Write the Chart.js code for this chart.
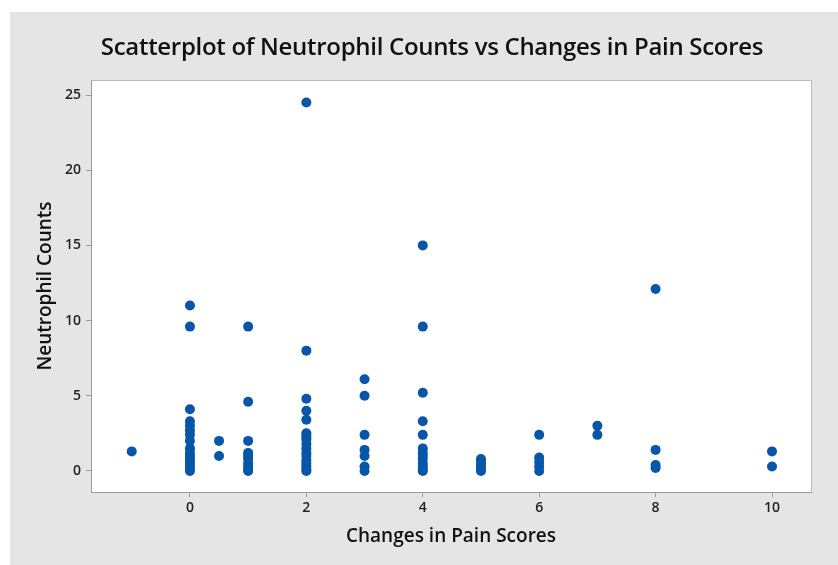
<!DOCTYPE html>
<html>
<head>
<meta charset="utf-8">
<script src="https://cdn.jsdelivr.net/npm/chart.js@4.4.1/dist/chart.umd.min.js"></script>
<style>
  html, body { margin: 0; padding: 0; background: #fff; }
  #wrap { width: 838px; height: 565px; position: relative; }
</style>
</head>
<body>
<div id="wrap"><canvas id="scatter"></canvas></div>
<script>
// Data (x = change in pain score, y = neutrophil count)
const painScores = [
  -1,
  0, 0, 0, 0, 0, 0, 0, 0, 0, 0, 0, 0, 0, 0, 0, 0,
  0.5, 0.5,
  1, 1, 1, 1, 1, 1, 1, 1, 1, 1,
  2, 2, 2, 2, 2, 2, 2, 2, 2, 2, 2, 2, 2, 2, 2, 2, 2,
  3, 3, 3, 3, 3, 3, 3,
  4, 4, 4, 4, 4, 4, 4, 4, 4, 4, 4, 4, 4,
  5, 5, 5, 5, 5,
  6, 6, 6, 6, 6,
  7, 7,
  8, 8, 8, 8,
  10, 10,
];
const neutrophilCounts = [
  1.3,
  11.0, 9.6, 4.1, 3.3, 3.0, 2.7, 2.4, 2.0, 1.5, 1.2, 1.0, 0.8, 0.6, 0.4, 0.2, 0.0,
  2.0, 1.0,
  9.6, 4.6, 2.0, 1.2, 1.0, 0.8, 0.5, 0.3, 0.1, 0.0,
  24.5, 8.0, 4.8, 4.0, 3.4, 2.5, 2.3, 2.1, 1.8, 1.5, 1.2, 1.0, 0.7, 0.5, 0.3, 0.1, 0.0,
  6.1, 5.0, 2.4, 1.4, 1.0, 0.3, 0.0,
  15.0, 9.6, 5.2, 3.3, 2.4, 1.5, 1.2, 1.0, 0.8, 0.5, 0.3, 0.1, 0.0,
  0.8, 0.6, 0.4, 0.2, 0.0,
  2.4, 0.9, 0.6, 0.3, 0.0,
  3.0, 2.4,
  12.1, 1.4, 0.4, 0.2,
  1.3, 0.3,
];
const xTicks = [0, 2, 4, 6, 8, 10];
const yTicks = [0, 5, 10, 15, 20, 25];

const chartTitle = "Scatterplot of Neutrophil Counts vs Changes in Pain Scores";
const xTitle = "Changes in Pain Scores";
const yTitle = "Neutrophil Counts";

const points = painScores.map((x, i) => ({ x: x, y: neutrophilCounts[i] }));

const FONT = "'Open Sans', 'DejaVu Sans', sans-serif";
const dotColor = "#0756a8";
const axisColor = "#9a9a9a";

// gray panel, white plot area, frame and title
const backdrop = {
  id: "backdrop",
  beforeDraw(chart) {
    const { ctx, chartArea: a } = chart;
    ctx.save();
    ctx.fillStyle = "#e5e5e5";
    ctx.fillRect(10, 12, chart.width - 10, chart.height - 12);
    ctx.fillStyle = "#fff";
    ctx.fillRect(a.left, a.top, a.right - a.left, a.bottom - a.top);
    ctx.restore();
  },
  afterDraw(chart) {
    const { ctx, chartArea: a } = chart;
    ctx.save();
    ctx.strokeStyle = "#b8b8b8";
    ctx.lineWidth = 1;
    ctx.beginPath();
    ctx.moveTo(a.left, a.top + 0.5);
    ctx.lineTo(a.right + 0.5, a.top + 0.5);
    ctx.lineTo(a.right + 0.5, a.bottom);
    ctx.stroke();

    ctx.fillStyle = "#111";
    ctx.font = `600 24px ${FONT}`;
    ctx.textAlign = "center";
    ctx.textBaseline = "middle";
    ctx.letterSpacing = "-0.3px";
    ctx.fillText(chartTitle, 432, 48);
    ctx.restore();
  },
};

new Chart(document.getElementById("scatter"), {
  type: "scatter",
  data: {
    datasets: [
      {
        data: points,
        backgroundColor: dotColor,
        borderColor: dotColor,
        borderWidth: 0,
        pointRadius: 5,
        pointHoverRadius: 5,
      },
    ],
  },
  options: {
    responsive: true,
    maintainAspectRatio: false,
    animation: false,
    layout: { padding: { left: 10, top: 80, right: 27, bottom: 0 } },
    plugins: {
      legend: { display: false },
      title: { display: false },
      tooltip: { enabled: false },
    },
    scales: {
      x: {
        type: "linear",
        min: -1.7,
        max: 10.67,
        afterBuildTicks: (s) => { s.ticks = xTicks.map((v) => ({ value: v })); },
        afterFit: (s) => { s.height = 73; },
        grid: { drawOnChartArea: false, drawTicks: true, tickLength: 5, color: axisColor },
        border: { display: true, color: axisColor },
        ticks: {
          padding: 3,
          color: "#222",
          font: { family: FONT, size: 14, weight: "600" },
        },
        title: {
          display: true,
          text: xTitle,
          color: "#111",
          font: { family: FONT, size: 19, weight: "600" },
          padding: { bottom: 17 },
        },
      },
      y: {
        type: "linear",
        min: -1.4,
        max: 26,
        afterBuildTicks: (s) => { s.ticks = yTicks.map((v) => ({ value: v })); },
        afterFit: (s) => { s.width = 81; },
        grid: { drawOnChartArea: false, drawTicks: true, tickLength: 5, color: axisColor },
        border: { display: true, color: axisColor },
        ticks: {
          padding: 5,
          color: "#222",
          font: { family: FONT, size: 14, weight: "600" },
        },
        title: {
          display: true,
          text: yTitle,
          color: "#111",
          font: { family: FONT, size: 19, weight: "600" },
          padding: { top: 24 },
        },
      },
    },
  },
  plugins: [backdrop],
});
</script>
</body>
</html>
